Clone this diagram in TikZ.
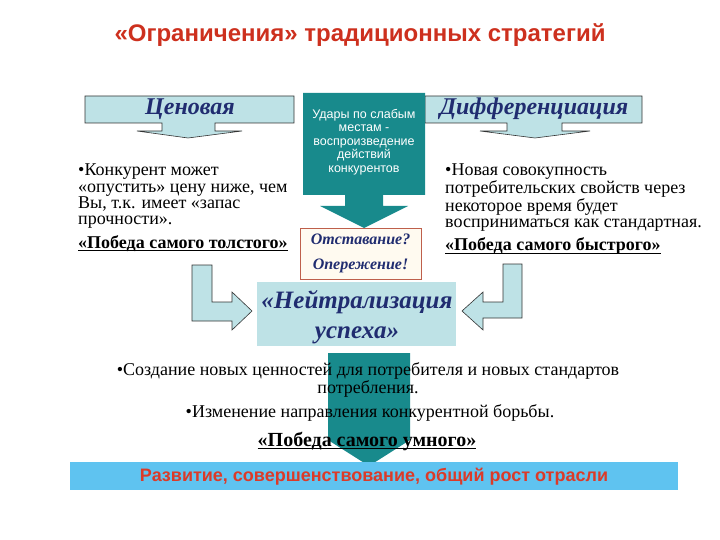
\documentclass[tikz,border=0pt]{standalone}
\usepackage{fontspec}
\setmainfont{Liberation Serif}
\setsansfont{Liberation Sans}
\definecolor{teal1}{RGB}{24,138,140}
\definecolor{lblue}{RGB}{190,226,230}
\definecolor{navy}{RGB}{32,44,112}
\definecolor{tred}{RGB}{205,48,30}
\definecolor{barred}{RGB}{220,58,40}
\definecolor{barblue}{RGB}{95,195,240}
\definecolor{boxedge}{RGB}{190,95,75}
\definecolor{cream}{RGB}{255,250,240}
\begin{document}
\begin{tikzpicture}[x=1pt,y=-1pt,
  lshape/.style={fill=lblue, draw=black!80, line width=0.6pt},
  tealshape/.style={fill=teal1},
  body/.style={font=\fontsize{18}{16.3}\selectfont, inner sep=0pt, align=left},
  bodyc/.style={font=\fontsize{18}{15.5}\selectfont, inner sep=0pt, align=center},
  winner/.style={font=\bfseries\fontsize{18}{20}\selectfont, inner sep=0pt},
  uline/.style={line width=1.1pt},
  headline/.style={font=\bfseries\itshape\fontsize{24}{26}\selectfont, text=navy, inner sep=0pt},
]
\path[use as bounding box] (0,0) rectangle (720,540);

% title
\node[font=\sffamily\bfseries\fontsize{24}{28}\selectfont, text=tred] (title) at (360,35) {«Ограничения» традиционных стратегий};

% left callout
\path[lshape] (85,96) -- (294,96) -- (294,123) -- (215,123) -- (215,131) -- (242,131) -- (188,138) -- (137,131) -- (162,131) -- (162,123) -- (85,123) -- cycle;
\node[headline] (price) at (190,109) {Ценовая};

% right callout
\path[lshape] (425,96) -- (642,96) -- (642,123) -- (562,123) -- (562,131) -- (590,131) -- (535,138) -- (480,131) -- (507,131) -- (507,123) -- (425,123) -- cycle;
\node[headline] (diff) at (534,109) {Дифференциация};

% status box
\node[draw=boxedge, fill=cream, line width=0.6pt, minimum width=121pt, minimum height=51pt,
  font=\bfseries\itshape\fontsize{16}{25}\selectfont, text=navy, align=center] (status) at (360.5,253.5) {Отставание?\\Опережение!};

% teal arrow (top)
\path[tealshape] (303,93) -- (425,93) -- (425,195) -- (383,195) -- (383,206) -- (408,206) -- (364,228) -- (320,206) -- (345,206) -- (345,195) -- (303,195) -- cycle;
\node[font=\sffamily\fontsize{12.5}{13.5}\selectfont, text=white, align=center, inner sep=0pt] (hits) at (364,142) {Удары по слабым\\местам -\\воспроизведение\\действий\\конкурентов};

% side texts
\node[body, anchor=north west] (ltext) at (78,164) {•Конкурент может\\«опустить» цену ниже, чем\\Вы, т.к. имеет «запас\\прочности».};
\node[winner, anchor=base west] (lwin) at (78,248) {«Победа самого толстого»};
\draw[uline] ([yshift=-2.5pt]lwin.base west) -- ([yshift=-2.5pt]lwin.base east);
\node[body, anchor=north west] (rtext) at (445,164) {•Новая совокупность\\потребительских свойств через\\некоторое время будет\\восприниматься как стандартная.};
\node[winner, anchor=base west] (rwin) at (445,251) {«Победа самого быстрого»};
\draw[uline] ([yshift=-2.5pt]rwin.base west) -- ([yshift=-2.5pt]rwin.base east);

% L arrows
\path[lshape] (192,265) -- (212,265) -- (212,302) -- (232,302) -- (232,292) -- (252,311) -- (232,330) -- (232,321) -- (192,321) -- cycle;
\path[lshape] (522,264) -- (503,264) -- (503,302) -- (483,302) -- (483,292) -- (462,311) -- (483,330) -- (483,318) -- (522,318) -- cycle;

% center box
\node[fill=lblue, minimum width=199pt, minimum height=64pt, inner sep=0pt] (neutral) at (356.5,314) {};
\node[font=\bfseries\itshape\fontsize{25}{30}\selectfont, text=navy, align=center, inner sep=0pt] (neutxt) at (357,317) {«Нейтрализация\\успеха»};

% bottom teal arrow
\path[tealshape] (328,353) -- (410,353) -- (410,440) -- (369,466) -- (328,440) -- cycle;

% bottom texts
\node[bodyc] (b1) at (368,380) {•Создание новых ценностей для потребителя и новых стандартов\\потребления.};
\node[bodyc] (b2) at (370,413) {•Изменение направления конкурентной борьбы.};
\node[winner, font=\bfseries\fontsize{20}{22}\selectfont, anchor=base] (b3) at (367,446) {«Победа самого умного»};
\draw[uline] ([yshift=-2.5pt]b3.base west) -- ([yshift=-2.5pt]b3.base east);

% bottom bar
\node[fill=barblue, minimum width=608pt, minimum height=28pt, inner sep=0pt] (bar) at (374,476) {};
\node[font=\sffamily\bfseries\fontsize{18}{20}\selectfont, text=barred] (bartxt) at (374,477) {Развитие, совершенствование, общий рост отрасли};
\end{tikzpicture}
\end{document}
